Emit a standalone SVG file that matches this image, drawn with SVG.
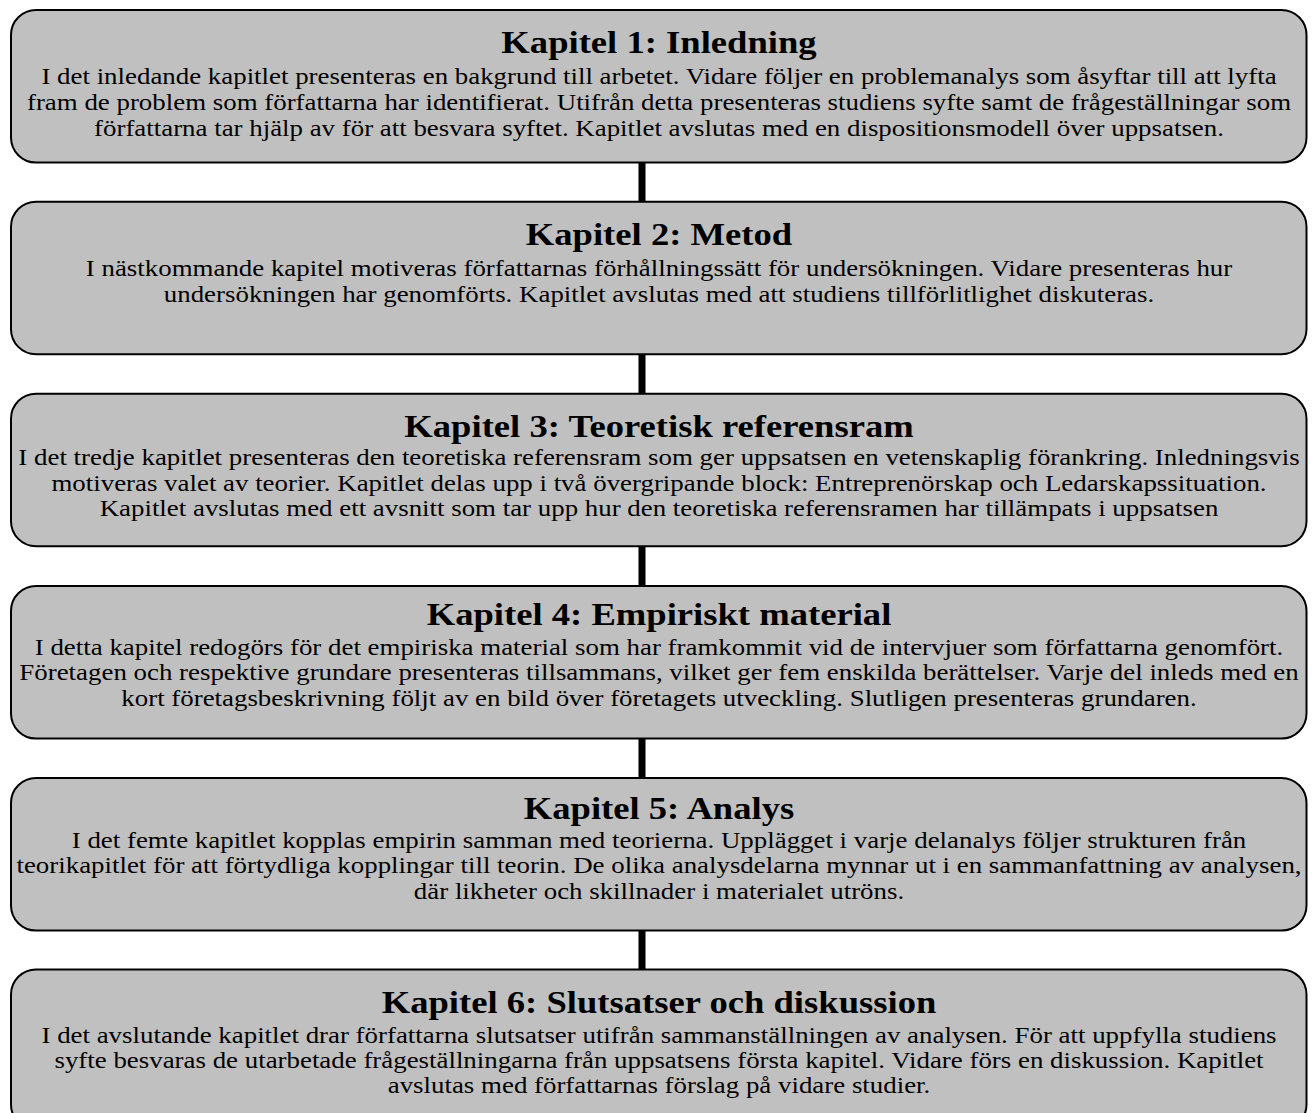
<svg xmlns="http://www.w3.org/2000/svg" width="1312" height="1113" viewBox="0 0 1312 1113">
<style>
.box{fill:#C0C0C0;stroke:#000;stroke-width:2}
.t{font-family:"Liberation Serif","Times New Roman",serif;font-weight:bold;font-size:32.4px;fill:#000;text-anchor:middle}
.b{font-family:"Liberation Serif","Times New Roman",serif;font-size:23.8px;fill:#000;text-anchor:middle}
.c{fill:#000}
</style>
<rect width="1312" height="1113" fill="#fff"/>
<g id="connectors">
<rect class="c" x="638.5" y="162" width="7" height="40"/>
<rect class="c" x="638.5" y="354" width="7" height="40"/>
<rect class="c" x="638.5" y="546" width="7" height="40"/>
<rect class="c" x="638.5" y="738" width="7" height="40"/>
<rect class="c" x="638.5" y="930" width="7" height="40"/>
</g>
<g id="kap1">
<rect class="box" x="11" y="10" width="1295.5" height="152.5" rx="25"/>
<g transform="translate(659 10) scale(1.13 1)">
<text class="t" x="0" y="43.3">Kapitel 1: Inledning</text>
<text class="b" x="0" y="74.3">I det inledande kapitlet presenteras en bakgrund till arbetet. Vidare följer en problemanalys som åsyftar till att lyfta</text>
<text class="b" x="0" y="100.3">fram de problem som författarna har identifierat. Utifrån detta presenteras studiens syfte samt de frågeställningar som</text>
<text class="b" x="0" y="126.3">författarna tar hjälp av för att besvara syftet. Kapitlet avslutas med en dispositionsmodell över uppsatsen.</text>
</g>
</g>
<g id="kap2">
<rect class="box" x="11" y="201.7" width="1295.5" height="152.5" rx="25"/>
<g transform="translate(659 201.7) scale(1.13 1)">
<text class="t" x="0" y="43.3">Kapitel 2: Metod</text>
<text class="b" x="0" y="74.5">I nästkommande kapitel motiveras författarnas förhållningssätt för undersökningen. Vidare presenteras hur</text>
<text class="b" x="0" y="100">undersökningen har genomförts. Kapitlet avslutas med att studiens tillförlitlighet diskuteras.</text>
</g>
</g>
<g id="kap3">
<rect class="box" x="11" y="393.7" width="1295.5" height="152.5" rx="25"/>
<g transform="translate(659 393.7) scale(1.13 1)">
<text class="t" x="0" y="43.5">Kapitel 3: Teoretisk referensram</text>
<text class="b" x="0" y="71.5">I det tredje kapitlet presenteras den teoretiska referensram som ger uppsatsen en vetenskaplig förankring. Inledningsvis</text>
<text class="b" x="0" y="97">motiveras valet av teorier. Kapitlet delas upp i två övergripande block: Entreprenörskap och Ledarskapssituation.</text>
<text class="b" x="0" y="122.5">Kapitlet avslutas med ett avsnitt som tar upp hur den teoretiska referensramen har tillämpats i uppsatsen</text>
</g>
</g>
<g id="kap4">
<rect class="box" x="11" y="586" width="1295.5" height="152.5" rx="25"/>
<g transform="translate(659 586) scale(1.13 1)">
<text class="t" x="0" y="39">Kapitel 4: Empiriskt material</text>
<text class="b" x="0" y="69">I detta kapitel redogörs för det empiriska material som har framkommit vid de intervjuer som författarna genomfört.</text>
<text class="b" x="0" y="94.5">Företagen och respektive grundare presenteras tillsammans, vilket ger fem enskilda berättelser. Varje del inleds med en</text>
<text class="b" x="0" y="120">kort företagsbeskrivning följt av en bild över företagets utveckling. Slutligen presenteras grundaren.</text>
</g>
</g>
<g id="kap5">
<rect class="box" x="11" y="778" width="1295.5" height="152.5" rx="25"/>
<g transform="translate(659 778) scale(1.13 1)">
<text class="t" x="0" y="41">Kapitel 5: Analys</text>
<text class="b" x="0" y="70">I det femte kapitlet kopplas empirin samman med teorierna. Upplägget i varje delanalys följer strukturen från</text>
<text class="b" x="0" y="95.5">teorikapitlet för att förtydliga kopplingar till teorin. De olika analysdelarna mynnar ut i en sammanfattning av analysen,</text>
<text class="b" x="0" y="121">där likheter och skillnader i materialet utröns.</text>
</g>
</g>
<g id="kap6">
<rect class="box" x="11" y="969.5" width="1295.5" height="160" rx="25"/>
<g transform="translate(659 969.5) scale(1.13 1)">
<text class="t" x="0" y="43.5">Kapitel 6: Slutsatser och diskussion</text>
<text class="b" x="0" y="73.8">I det avslutande kapitlet drar författarna slutsatser utifrån sammanställningen av analysen. För att uppfylla studiens</text>
<text class="b" x="0" y="98.8">syfte besvaras de utarbetade frågeställningarna från uppsatsens första kapitel. Vidare förs en diskussion. Kapitlet</text>
<text class="b" x="0" y="123.8">avslutas med författarnas förslag på vidare studier.</text>
</g>
</g>
</svg>
